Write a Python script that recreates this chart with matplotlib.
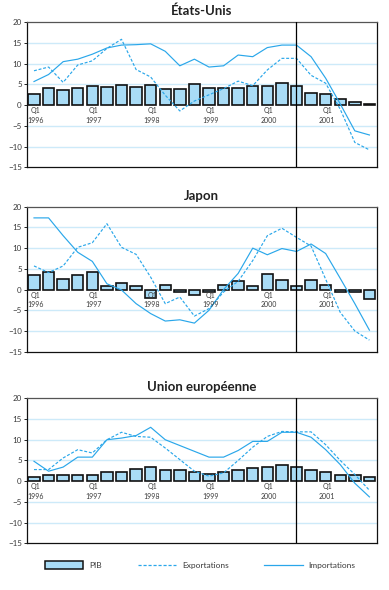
import numpy as np
import matplotlib
matplotlib.use("Agg")
import matplotlib.pyplot as plt
from matplotlib.patches import Patch
from matplotlib.lines import Line2D

plt.rcParams["font.family"] = ["Lato", "DejaVu Sans"]

quarters = list(range(24))
year_labels = ["1996", "1997", "1998", "1999", "2000", "2001"]

us_pib = [2.7, 4.1, 3.6, 4.1, 4.6, 4.3, 4.8, 4.3, 4.8, 3.9, 3.9, 5.1,
          4.1, 4.1, 4.1, 4.6, 4.6, 5.3, 4.6, 2.9, 2.7, 1.4, 0.8, 0.2]
us_exp = [8.3, 9.2, 5.5, 9.7, 10.7, 13.7, 15.9, 8.6, 6.8, 2.4, -1.4, 1.0,
          2.5, 4.0, 5.8, 4.7, 8.5, 11.3, 11.3, 7.2, 5.3, -1.0, -9.0, -10.8]
us_imp = [5.7, 7.4, 10.5, 11.1, 12.3, 13.8, 14.5, 14.6, 14.8, 13.0, 9.5, 11.1,
          9.2, 9.5, 12.1, 11.7, 13.9, 14.5, 14.5, 11.7, 6.5, 0.3, -6.2, -7.2]

jp_pib = [3.4, 4.2, 2.6, 3.6, 4.2, 0.8, 1.5, 0.8, -2.1, 1.2, -0.6, -1.4,
          -0.7, 1.2, 2.0, 0.8, 3.7, 2.2, 0.8, 2.2, 1.2, -0.6, -0.5, -2.3]
jp_exp = [5.7, 4.1, 5.7, 10.2, 11.3, 15.9, 10.2, 8.5, 3.0, -3.4, -1.8, -6.4,
          -4.6, -0.6, 2.0, 7.0, 13.0, 14.8, 12.6, 10.5, 2.5, -5.5, -10.0, -12.2]
jp_imp = [17.3, 17.3, 13.0, 9.0, 6.8, 1.4, -0.1, -3.4, -5.8, -7.6, -7.3, -8.1,
          -5.0, 0.0, 3.9, 10.0, 8.4, 9.9, 9.2, 11.0, 8.7, 2.7, -3.4, -9.8]

eu_pib = [1.1, 1.4, 1.6, 1.6, 1.6, 2.3, 2.3, 3.0, 3.3, 2.7, 2.7, 2.1,
          1.7, 2.1, 2.6, 3.2, 3.5, 3.8, 3.3, 2.8, 2.3, 1.6, 1.4, 0.9]
eu_exp = [2.8, 2.8, 5.6, 7.6, 6.8, 10.0, 11.8, 10.8, 10.6, 8.0, 5.2, 2.4,
          1.2, 2.0, 5.0, 8.2, 10.8, 12.0, 11.9, 11.9, 8.8, 5.0, 1.6, -2.2]
eu_imp = [4.8, 2.4, 3.4, 5.8, 5.8, 10.0, 10.4, 11.0, 13.0, 10.0, 8.6, 7.2,
          5.8, 5.8, 7.4, 9.6, 9.6, 11.8, 11.8, 10.6, 7.6, 4.0, -0.5, -3.8]

bar_color = "#a9dcf6"
line_color = "#2aa7ea"
grid_color = "#cdeaf9"
text_color = "#3a3a3a"


def draw_panel(ax, title, pib, exp, imp):
    x = np.array(quarters)
    for yv in [-10, -5, 5, 10, 15]:
        ax.axhline(yv, color=grid_color, lw=1.0, zorder=0)
    ax.bar(x, pib, width=0.78, color=bar_color, edgecolor="#111111", linewidth=1.2, zorder=2)
    ax.plot(x, exp, color=line_color, lw=0.85, ls=(0, (2.5, 1.5)), zorder=3)
    ax.plot(x, imp, color=line_color, lw=0.85, zorder=3)
    ax.axvline(17.95, color="black", lw=0.9, zorder=4)
    for k, yr in enumerate(year_labels):
        ax.text(4 * k + 0.1, -1.4, "Q1", ha="center", va="center", fontsize=5, color=text_color, zorder=5)
        ax.text(4 * k + 0.1, -3.6, yr, ha="center", va="center", fontsize=5, color=text_color, zorder=5)
    ax.set_xlim(-0.5, 23.5)
    ax.set_ylim(-15, 20)
    ax.set_yticks([20, 15, 10, 5, 0, -5, -10, -15])
    ax.set_xticks([])
    ax.tick_params(axis="y", length=2, width=0.6, labelsize=5.8, labelcolor=text_color, pad=1.5)
    for s in ax.spines.values():
        s.set_linewidth(0.9)
        s.set_color("#111111")
    ax.spines["top"].set_color("#555555")
    ax.set_title(title, fontsize=9.5, fontweight="bold", color="#222222", pad=5)


fig = plt.figure(figsize=(3.89, 5.90), dpi=100)
left = 26.7 / 389
width = 350 / 389
height = 145 / 590
ax1 = fig.add_axes([left, 1 - 167.3 / 590, width, height])
ax2 = fig.add_axes([left, 1 - 351.7 / 590, width, height])
ax3 = fig.add_axes([left, 1 - 543.3 / 590, width, height])

draw_panel(ax1, "États-Unis", us_pib, us_exp, us_imp)
draw_panel(ax2, "Japon", jp_pib, jp_exp, jp_imp)
draw_panel(ax3, "Union européenne", eu_pib, eu_exp, eu_imp)

handles = [
    Patch(facecolor=bar_color, edgecolor="#111111", linewidth=1.1),
    Line2D([], [], color=line_color, lw=0.9, ls=(0, (2.5, 1.5))),
    Line2D([], [], color=line_color, lw=0.9),
]
fig.legend(handles, ["PIB", "Exportations", "Importations"], loc="center",
           bbox_to_anchor=(0.515, 1 - 565 / 590), ncol=3, frameon=False,
           fontsize=6, handlelength=4.6, handleheight=1.0, handletextpad=0.7,
           columnspacing=4.3, labelcolor=text_color)

fig.savefig("out.png", dpi=100)
